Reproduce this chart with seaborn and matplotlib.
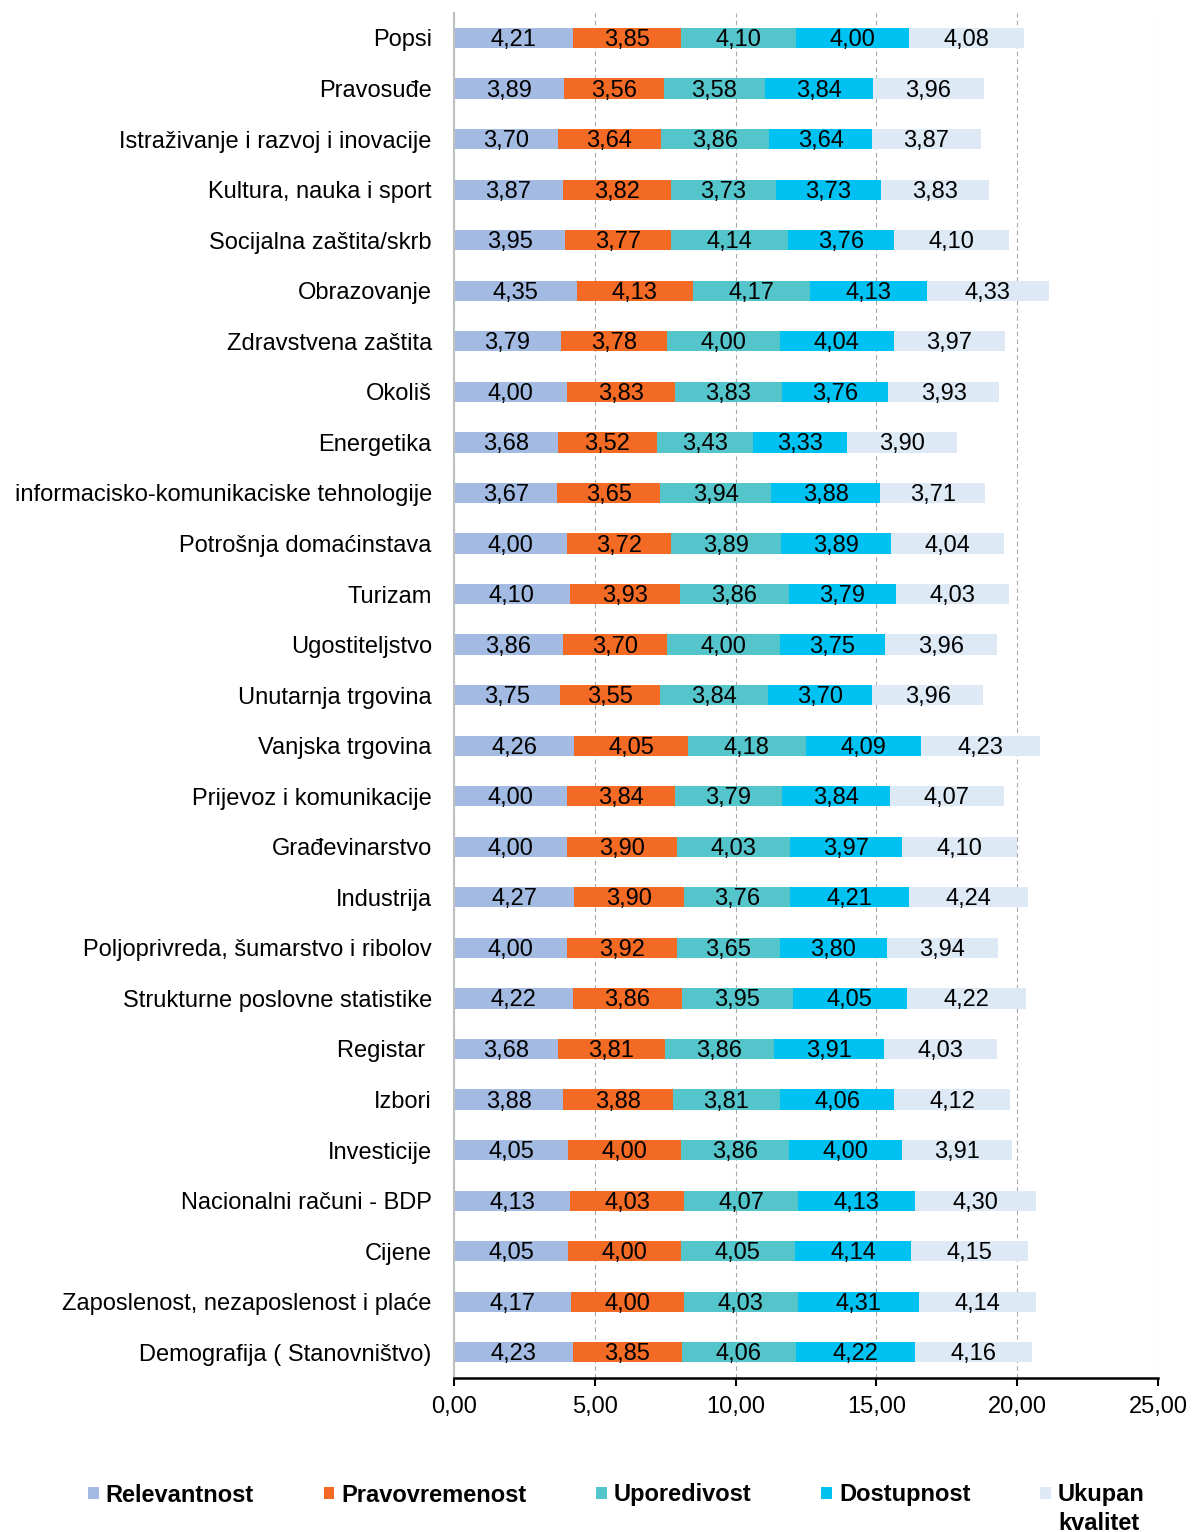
import numpy as np
import pandas as pd
import seaborn as sns
import matplotlib.pyplot as plt
from matplotlib.patches import Patch

# Data (top to bottom)
categories = [
    "Popsi", "Pravosuđe", "Istraživanje i razvoj i inovacije", "Kultura, nauka i sport",
    "Socijalna zaštita/skrb", "Obrazovanje", "Zdravstvena zaštita", "Okoliš", "Energetika",
    "informacisko-komunikaciske tehnologije", "Potrošnja domaćinstava", "Turizam",
    "Ugostiteljstvo", "Unutarnja trgovina", "Vanjska trgovina", "Prijevoz i komunikacije",
    "Građevinarstvo", "Industrija", "Poljoprivreda, šumarstvo i ribolov",
    "Strukturne poslovne statistike", "Registar ", "Izbori", "Investicije",
    "Nacionalni računi - BDP", "Cijene", "Zaposlenost, nezaposlenost i plaće",
    "Demografija ( Stanovništvo)",
]
relevantnost = [4.21, 3.89, 3.70, 3.87, 3.95, 4.35, 3.79, 4.00, 3.68, 3.67, 4.00, 4.10, 3.86, 3.75,
                4.26, 4.00, 4.00, 4.27, 4.00, 4.22, 3.68, 3.88, 4.05, 4.13, 4.05, 4.17, 4.23]
pravovremenost = [3.85, 3.56, 3.64, 3.82, 3.77, 4.13, 3.78, 3.83, 3.52, 3.65, 3.72, 3.93, 3.70, 3.55,
                  4.05, 3.84, 3.90, 3.90, 3.92, 3.86, 3.81, 3.88, 4.00, 4.03, 4.00, 4.00, 3.85]
uporedivost = [4.10, 3.58, 3.86, 3.73, 4.14, 4.17, 4.00, 3.83, 3.43, 3.94, 3.89, 3.86, 4.00, 3.84,
               4.18, 3.79, 4.03, 3.76, 3.65, 3.95, 3.86, 3.81, 3.86, 4.07, 4.05, 4.03, 4.06]
dostupnost = [4.00, 3.84, 3.64, 3.73, 3.76, 4.13, 4.04, 3.76, 3.33, 3.88, 3.89, 3.79, 3.75, 3.70,
              4.09, 3.84, 3.97, 4.21, 3.80, 4.05, 3.91, 4.06, 4.00, 4.13, 4.14, 4.31, 4.22]
ukupan = [4.08, 3.96, 3.87, 3.83, 4.10, 4.33, 3.97, 3.93, 3.90, 3.71, 4.04, 4.03, 3.96, 3.96,
          4.23, 4.07, 4.10, 4.24, 3.94, 4.22, 4.03, 4.12, 3.91, 4.30, 4.15, 4.14, 4.16]

series_names = ["Relevantnost", "Pravovremenost", "Uporedivost", "Dostupnost", "Ukupan kvalitet"]
colors = ["#A3BBE2", "#F36A25", "#55C5CC", "#00C2F2", "#DDE9F5"]

df = pd.DataFrame({
    "Kategorija": categories,
    "Relevantnost": relevantnost,
    "Pravovremenost": pravovremenost,
    "Uporedivost": uporedivost,
    "Dostupnost": dostupnost,
    "Ukupan kvalitet": ukupan,
})
values = df[series_names]
cum = values.cumsum(axis=1)

sns.set_theme(style="white")
plt.rcParams["font.family"] = ["Liberation Sans", "DejaVu Sans"]
plt.rcParams["text.color"] = "black"

fig = plt.figure(figsize=(11.93, 15.32), dpi=100)
ax = fig.add_axes([0.3806, 0.1008, 0.5901, 0.8909])

# stacked bars: draw cumulative totals back to front
for name, color in reversed(list(zip(series_names, colors))):
    sns.barplot(x=cum[name], y=df["Kategorija"], orient="h", order=categories,
                color=color, saturation=1, width=0.4, linewidth=0, ax=ax)

# value labels in the middle of each segment
for name in series_names:
    centers = cum[name] - values[name] / 2
    for i, (c, v) in enumerate(zip(centers, values[name])):
        ax.text(c, i + 0.04, f"{v:.2f}".replace(".", ","), ha="center", va="center",
                fontsize=17, color="black")

ticks = np.arange(0, 26, 5)
ax.set_xlim(0, 25)
ax.set_ylim(len(categories) - 0.5, -0.5)
ax.set_xticks(ticks)
ax.set_xticklabels([f"{t:.2f}".replace(".", ",") for t in ticks])
ax.set_xlabel("")
ax.set_ylabel("")
ax.grid(axis="x", color="#A6A6A6", linestyle=(0, (4, 3)), linewidth=0.8)
ax.grid(axis="y", visible=False)
ax.set_axisbelow(True)

ax.tick_params(axis="x", bottom=True, length=6, width=1.5, color="black", direction="out",
               labelsize=17, pad=7, labelcolor="black")
ax.tick_params(axis="y", left=False, length=0, labelsize=17, pad=16, labelcolor="black")

for s in ["top", "right"]:
    ax.spines[s].set_visible(False)
ax.spines["left"].set_color("#BFBFBF")
ax.spines["left"].set_linewidth(1.5)
ax.spines["bottom"].set_color("black")
ax.spines["bottom"].set_linewidth(1.8)

# legend at the bottom
handles = [Patch(facecolor=c, edgecolor="none") for c in colors]
labels = ["Relevantnost", "Pravovremenost", "Uporedivost", "Dostupnost", "Ukupan"]
leg = fig.legend(handles, labels, loc="center left", bbox_to_anchor=(88 / 1193, 1 - 1495 / 1532),
                 ncol=5, frameon=False, borderpad=0, borderaxespad=0,
                 handlelength=0.45, handleheight=0.45, handletextpad=0.3, columnspacing=2.95,
                 labelcolor="black", prop={"weight": "bold", "size": 17})

fig.canvas.draw()
bb = leg.get_texts()[4].get_window_extent()
fig.text(bb.x0 / fig.bbox.width, (bb.y0 - 5) / fig.bbox.height, "kvalitet",
         ha="left", va="top", fontsize=17, fontweight="bold", color="black")

fig.savefig("out.png", dpi=100)
